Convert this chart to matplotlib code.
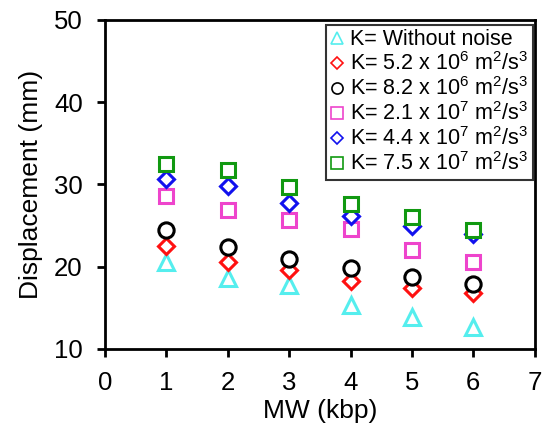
import matplotlib
matplotlib.use("Agg")
import matplotlib.pyplot as plt
from matplotlib.lines import Line2D

plt.rcParams['font.family'] = ['Liberation Sans', 'DejaVu Sans']
plt.rcParams['mathtext.fontset'] = 'custom'
plt.rcParams['mathtext.rm'] = 'Liberation Sans'
plt.rcParams['mathtext.it'] = 'Liberation Sans'

mw = [1, 2, 3, 4, 5, 6]
labels = [
    "K= Without noise",
    r"K= 5.2 x 10$^{6}$ m$^{2}$/s$^{3}$",
    r"K= 8.2 x 10$^{6}$ m$^{2}$/s$^{3}$",
    r"K= 2.1 x 10$^{7}$ m$^{2}$/s$^{3}$",
    r"K= 4.4 x 10$^{7}$ m$^{2}$/s$^{3}$",
    r"K= 7.5 x 10$^{7}$ m$^{2}$/s$^{3}$",
]
no_noise = [20.6, 18.6, 17.8, 15.3, 13.9, 12.7]
k_5_2e6 = [22.5, 20.6, 19.6, 18.2, 17.4, 16.8]
k_8_2e6 = [24.5, 22.4, 20.9, 19.9, 18.8, 17.9]
k_2_1e7 = [28.6, 26.9, 25.7, 24.6, 22.0, 20.6]
k_4_4e7 = [30.7, 29.8, 27.8, 26.2, 24.9, 24.0]
k_7_5e7 = [32.5, 31.7, 29.7, 27.6, 26.1, 24.5]

series = [no_noise, k_5_2e6, k_8_2e6, k_2_1e7, k_4_4e7, k_7_5e7]
markers = ['^', 'D', 'o', 's', 'D', 's']
colors = ['#55EEEE', '#FF1111', '#000000', '#EE44CC', '#1111EE', '#119911']
sizes = [11, 8.5, 11, 10.5, 8.5, 10.5]
leg_sizes = [8, 6.5, 8, 8, 6.5, 8]

fig = plt.figure(figsize=(5.44, 4.34), dpi=100)
ax = fig.add_axes([0.193, 0.196, 0.79, 0.758])

for ys, m, c, s in zip(series, markers, colors, sizes):
    ax.plot(mw, ys, linestyle='none', marker=m, markersize=s,
            markerfacecolor='white', markeredgecolor=c, markeredgewidth=2.2)

ax.set_xlim(0, 7)
ax.set_ylim(10, 50)
ax.set_xticks(range(0, 8))
ax.set_yticks([10, 20, 30, 40, 50])
for sp in ax.spines.values():
    sp.set_linewidth(2)
ax.tick_params(direction='out', length=6, width=2, labelsize=18.5)
ax.tick_params(axis='x', pad=10)
ax.tick_params(axis='y', pad=10)
ax.set_xlabel("MW (kbp)", fontsize=19, labelpad=3)
ax.set_ylabel("Displacement (mm)", fontsize=19, labelpad=8)

handles = [Line2D([], [], linestyle='none', marker=m, markersize=s,
                  markerfacecolor='none', markeredgecolor=c, markeredgewidth=1.2)
           for m, c, s in zip(markers, colors, leg_sizes)]
leg = ax.legend(handles, labels, loc='upper right', fontsize=15.5,
                frameon=True, fancybox=False, edgecolor='black',
                handlelength=0.6, handletextpad=0.3, borderpad=0.2,
                labelspacing=0.1, borderaxespad=0.0,
                bbox_to_anchor=(0.995, 0.985))
leg.get_frame().set_linewidth(1.5)

fig.savefig("out.png", dpi=100)
